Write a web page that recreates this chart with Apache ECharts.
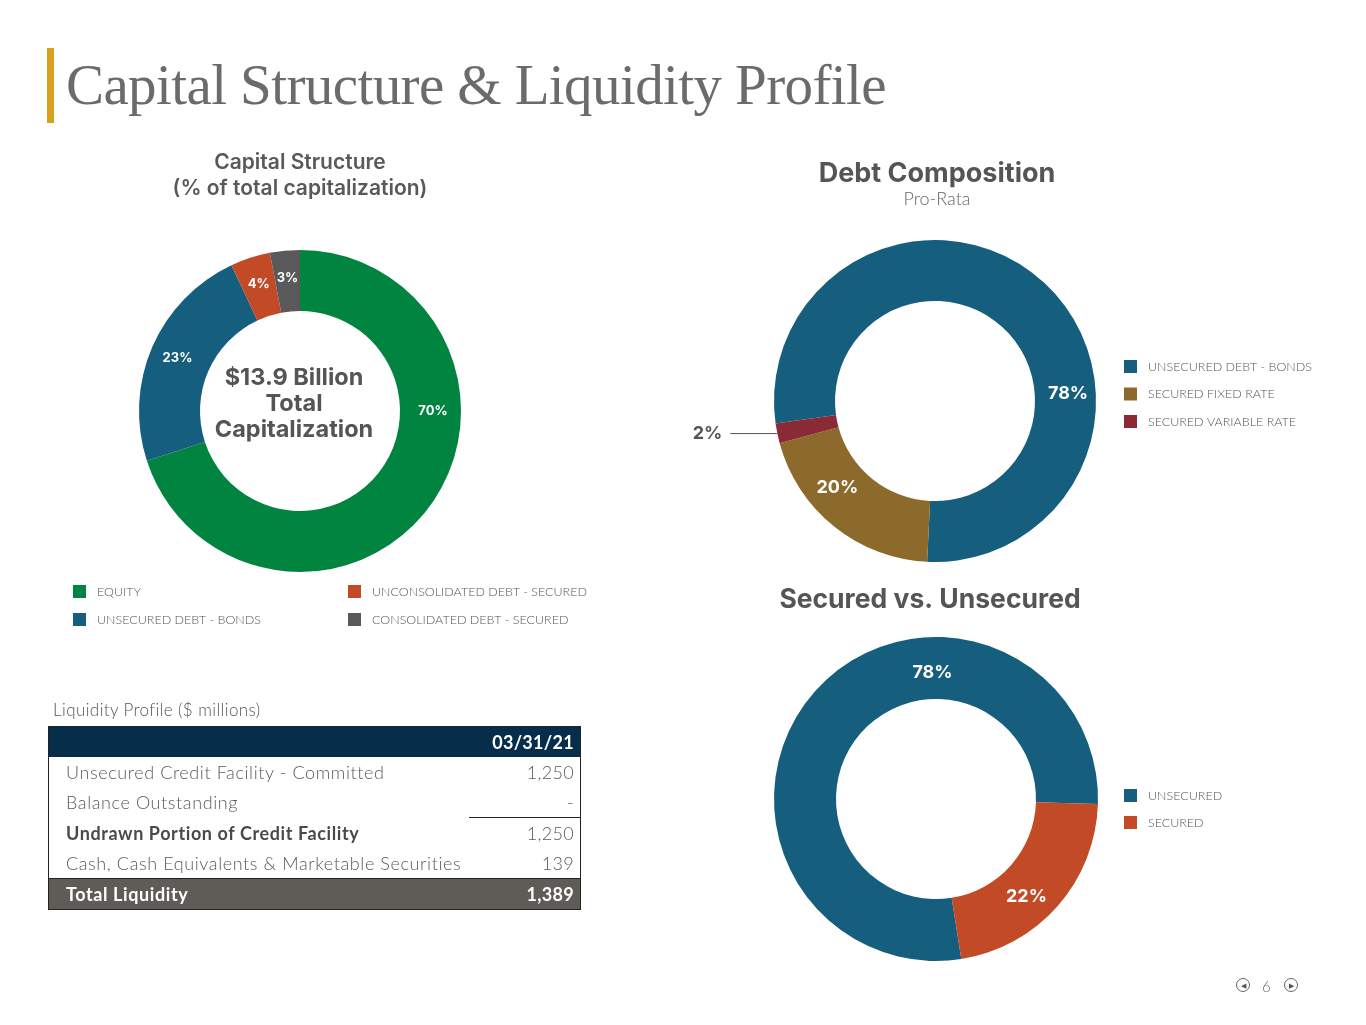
<!DOCTYPE html>
<html>
<head>
<meta charset="utf-8">
<script src="https://cdn.jsdelivr.net/npm/echarts@6/dist/echarts.min.js"></script>
<style>
  html, body { margin: 0; padding: 0; background: #fff; }
  body { width: 1366px; height: 1025px; position: relative; overflow: hidden; font-family: Lato, "Noto Sans", sans-serif; }
  #chart { position: absolute; left: 0; top: 0; width: 1366px; height: 1025px; }
  .bar { position: absolute; left: 47px; top: 48px; width: 7px; height: 75px; background: #d9a21b; }
  .pagetitle { position: absolute; left: 66px; top: 52px; font-family: "Liberation Serif", serif; font-size: 57px; color: #6b6b6b; letter-spacing: -0.6px; white-space: nowrap; }
  .liqcap { position: absolute; left: 53px; top: 699px; font-size: 17px; font-weight: 300; color: #555; letter-spacing: 0.4px; }
  table.liq { position: absolute; left: 48px; top: 726px; width: 533px; border-collapse: collapse; border: 1px solid #222; font-size: 18px; color: #5a5a5a; font-weight: 300; letter-spacing: 0.6px; }
  table.liq td { padding: 0 6px 0 17px; height: 30px; white-space: nowrap; }
  table.liq td.v { text-align: right; padding: 0 6px 0 0; width: 105px; letter-spacing: 0.3px; }
  table.liq tr.hd td { background: #062d4a; color: #fff; font-weight: 700; height: 30px; }
  table.liq tr.b td.l { font-weight: 700; color: #4a4a4a; }
  table.liq tr.tot td { background: #5f5b57; color: #fff; font-weight: 700; border-top: 1px solid #222; }
  table.liq tr.ul td.v { border-bottom: 1px solid #222; }
  .nav { position: absolute; top: 977px; font-size: 15px; color: #666; font-weight: 300; }
  .circ { position: absolute; top: 978px; width: 12px; height: 12px; border: 1px solid #666; border-radius: 50%; font-size: 7px; line-height: 12px; text-align: center; color: #555; }
</style>
</head>
<body>
<div id="chart"></div>
<div class="bar"></div>
<div class="pagetitle">Capital Structure &amp; Liquidity Profile</div>
<div class="liqcap">Liquidity Profile ($ millions)</div>
<table class="liq" id="liq"></table>
<div class="circ" style="left:1236px">&#9664;</div>
<div class="nav" style="left:1262px">6</div>
<div class="circ" style="left:1284px">&#9654;</div>
<script>
// capital structure
const capNames = ['EQUITY', 'UNSECURED DEBT - BONDS', 'UNCONSOLIDATED DEBT - SECURED', 'CONSOLIDATED DEBT - SECURED'];
const capValues = [70, 23, 4, 3];
const capColors = ['#00843f', '#155e7e', '#c24a26', '#59595b'];

// debt composition (pro-rata)
const debtNames = ['UNSECURED DEBT - BONDS', 'SECURED FIXED RATE', 'SECURED VARIABLE RATE'];
const debtValues = [78, 20, 2];
const debtColors = ['#155e7e', '#8c6a2b', '#8a2a36'];

// secured vs unsecured
const secNames = ['UNSECURED', 'SECURED'];
const secValues = [78, 22];
const secColors = ['#155e7e', '#c24a26'];

// liquidity table
const liqDate = '03/31/21';
const liqRows = ['Unsecured Credit Facility - Committed', 'Balance Outstanding', 'Undrawn Portion of Credit Facility', 'Cash, Cash Equivalents & Marketable Securities', 'Total Liquidity'];
const liqValues = ['1,250', '-', '1,250', '139', '1,389'];

// build table
const tbl = document.getElementById('liq');
let html = '<tr class="hd"><td></td><td class="v">' + liqDate + '</td></tr>';
liqRows.forEach(function (r, i) {
  let cls = '';
  if (i === 1) cls = 'ul';
  if (i === 2) cls = 'b';
  if (i === liqRows.length - 1) cls = 'tot';
  html += '<tr class="' + cls + '"><td class="l">' + r.replace('&', '&amp;') + '</td><td class="v">' + liqValues[i] + '</td></tr>';
});
tbl.innerHTML = html;

// label nudges so the big slices keep their labels where the slide has them
const capOffsets = { 'EQUITY': [25, -78] };
const debtOffsets = { 'UNSECURED DEBT - BONDS': [43, 91], 'SECURED FIXED RATE': [-14, -17] };
const secOffsets = { 'UNSECURED': [97, -38], 'SECURED': [-10, 9] };

function pieData(names, values, colors, offsets) {
  return names.map(function (n, i) {
    const item = { name: n, value: values[i], itemStyle: { color: colors[i] } };
    if (offsets[n]) item.label = { offset: offsets[n] };
    return item;
  });
}

const fontBold = 'Inter, Lato, sans-serif';
const legendText = { fontFamily: 'Lato, sans-serif', fontWeight: 300, fontSize: 12.5, color: '#555', padding: [0, 0, 0, 6] };
const legendBase = { orient: 'vertical', icon: 'rect', itemWidth: 13, itemHeight: 13, padding: 0, selectedMode: false, textStyle: legendText };

const chart = echarts.init(document.getElementById('chart'), null, { renderer: 'canvas' });
const option = {
  animation: false,
  title: [
    {
      text: 'Capital Structure\n(% of total capitalization)',
      left: 300, top: 150, textAlign: 'center', padding: 0,
      textStyle: { fontFamily: fontBold, fontWeight: 600, fontSize: 21, lineHeight: 26, color: '#595959' }
    },
    {
      text: 'Debt Composition', subtext: 'Pro-Rata',
      left: 937, top: 160, textAlign: 'center', itemGap: 3, padding: 0,
      textStyle: { fontFamily: fontBold, fontWeight: 700, fontSize: 27, color: '#555' },
      subtextStyle: { fontFamily: 'Lato, sans-serif', fontWeight: 300, fontSize: 18, color: '#666' }
    },
    {
      text: 'Secured vs. Unsecured',
      left: 930, top: 587, textAlign: 'center', padding: 0,
      textStyle: { fontFamily: fontBold, fontWeight: 700, fontSize: 26.5, color: '#555' }
    }
  ],
  legend: [
    Object.assign({ data: capNames.slice(0, 2), left: 73, top: 585, itemGap: 15 }, legendBase),
    Object.assign({ data: capNames.slice(2), left: 348, top: 585, itemGap: 15 }, legendBase),
    Object.assign({ data: debtNames, left: 1124, top: 360, itemGap: 14.5 }, legendBase),
    Object.assign({ data: secNames, left: 1124, top: 789, itemGap: 14 }, legendBase)
  ],
  graphic: [
    {
      type: 'text', x: 294, y: 404,
      style: {
        text: '$13.9 Billion\nTotal\nCapitalization',
        align: 'center', verticalAlign: 'middle',
        fontFamily: fontBold, fontWeight: 700, fontSize: 23.5, lineHeight: 26, fill: '#555'
      }
    }
  ],
  series: [
    {
      type: 'pie', name: 'Capital Structure',
      center: [300, 411], radius: [100, 161], startAngle: 90, clockwise: true,
      silent: true, avoidLabelOverlap: false,
      label: { show: true, position: 'inside', formatter: '{c}%', color: '#fff', fontFamily: fontBold, fontWeight: 700, fontSize: 13 },
      labelLine: { show: false },
      data: pieData(capNames, capValues, capColors, capOffsets)
    },
    {
      type: 'pie', name: 'Debt Composition',
      center: [935, 401], radius: [100, 161], startAngle: 188, clockwise: true,
      silent: true, avoidLabelOverlap: false,
      label: { show: true, position: 'inside', formatter: '{c}%', color: '#fff', fontFamily: fontBold, fontWeight: 700, fontSize: 18 },
      labelLine: { show: false },
      data: pieData(debtNames, debtValues, debtColors, debtOffsets).map(function (d) {
        if (d.name === 'SECURED VARIABLE RATE') {
          d.label = { position: 'outside', color: '#555', distanceToLabelLine: 8 };
          d.labelLine = { show: true, length: 1, length2: 46, smooth: false, lineStyle: { color: '#555', width: 1 } };
        }
        return d;
      })
    },
    {
      type: 'pie', name: 'Secured vs. Unsecured',
      center: [936, 799], radius: [100, 162], startAngle: -81, clockwise: true,
      silent: true, avoidLabelOverlap: false,
      label: { show: true, position: 'inside', formatter: '{c}%', color: '#fff', fontFamily: fontBold, fontWeight: 700, fontSize: 18 },
      labelLine: { show: false },
      data: pieData(secNames, secValues, secColors, secOffsets)
    }
  ]
};
chart.setOption(option);
</script>
</body>
</html>
